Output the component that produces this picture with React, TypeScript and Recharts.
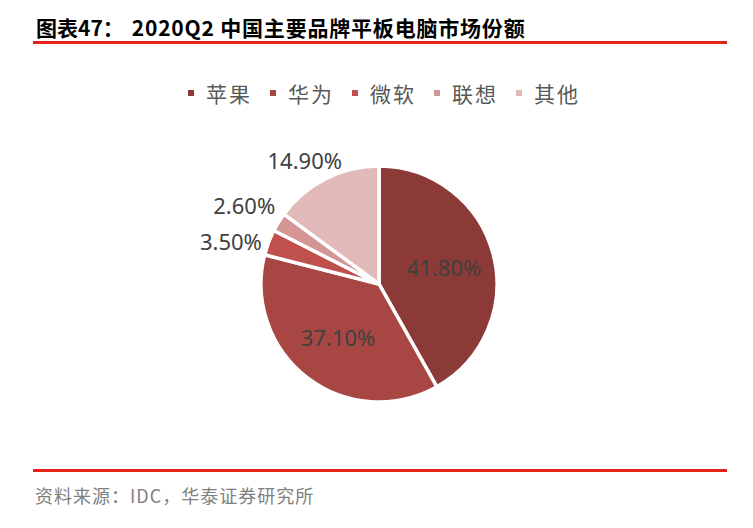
import React from 'react';
import { PieChart, Pie, Cell } from 'recharts';

const brands = ['苹果', '华为', '微软', '联想', '其他'];
const shares = [41.8, 37.1, 3.5, 2.6, 14.9];
const colors = ['#8C3A37', '#A84644', '#C0504D', '#D39695', '#E1B9B8'];
const titleLead = '图表47：';
const titleMain = '2020Q2 中国主要品牌平板电脑市场份额';
const sourceText = '资料来源：IDC，华泰证券研究所';

const data = brands.map((name, i) => ({ name, value: shares[i] }));

const RAD = Math.PI / 180;
const LABEL_FONT = 22;
const INSIDE_MIN = 0.2;
const MIN_GAP = 36;

// Geometry of the pie (used by Recharts and by the label layout)
const CX = 379;
const CY = 284;
const OUTER = 118;

const fmt = (v: number) => v.toFixed(2) + '%';

// Pre-compute label positions with a simple vertical de-overlap pass for outside labels.
const total = shares.reduce((a, b) => a + b, 0);
const labelPos: { x: number; y: number }[] = (() => {
  let start = 90;
  const res: { x: number; y: number; outside: boolean }[] = [];
  shares.forEach((v) => {
    const sweep = (v / total) * 360;
    const mid = start - sweep / 2;
    start -= sweep;
    const c = Math.cos(mid * RAD);
    const s = Math.sin(mid * RAD);
    const pct = v / total;
    if (pct > INSIDE_MIN) {
      const r = OUTER * 0.57;
      res.push({ x: CX + r * c, y: CY - r * s, outside: false });
    } else {
      const r = OUTER + 10;
      const hw = (fmt(v).length * LABEL_FONT * 0.55) / 2;
      res.push({ x: CX + r * c + c * hw, y: CY - r * s - s * 11, outside: true });
    }
  });
  const outs = res.map((p, i) => ({ p, i })).filter((o) => o.p.outside).sort((a, b) => a.p.y - b.p.y);
  for (let k = 1; k < outs.length; k++) {
    const a = outs[k - 1].p;
    const b = outs[k].p;
    const gap = b.y - a.y;
    if (gap < MIN_GAP) {
      const push = (MIN_GAP - gap) / 2;
      a.y -= push;
      b.y += push;
    }
  }
  return res.map(({ x, y }) => ({ x, y }));
})();

const renderLabel = (props: any) => {
  const { index, value } = props;
  const pos = labelPos[index];
  return (
    <text
      x={pos.x}
      y={pos.y}
      textAnchor="middle"
      dominantBaseline="central"
      fill="#404040"
      fontSize={LABEL_FONT}
      fontFamily="'Noto Sans', 'Open Sans', sans-serif"
    >
      {fmt(Number(value))}
    </text>
  );
};

export default function App() {
  return (
    <div style={{ position: 'absolute', left: 0, top: 0, width: 753, height: 528, background: '#fff', overflow: 'hidden' }}>
      <div style={{ position: 'absolute', left: 0, top: 0 }}>
        <PieChart width={753} height={528} margin={{ top: 0, right: 0, bottom: 0, left: 0 }}>
          <Pie
            data={data}
            dataKey="value"
            nameKey="name"
            cx={CX}
            cy={CY}
            outerRadius={OUTER}
            startAngle={90}
            endAngle={-270}
            stroke="#ffffff"
            strokeWidth={3.5}
            label={renderLabel}
            labelLine={false}
            isAnimationActive={false}
          >
            {data.map((d, i) => (
              <Cell key={d.name} fill={colors[i]} />
            ))}
          </Pie>
        </PieChart>
      </div>

      <div
        style={{
          position: 'absolute',
          left: 36,
          top: 14,
          fontFamily: "'Noto Sans CJK SC', sans-serif",
          fontWeight: 700,
          fontSize: 21,
          lineHeight: '26px',
          color: '#000',
          whiteSpace: 'pre',
        }}
      >
        <span>{titleLead}</span>
        <span style={{ marginLeft: 8, letterSpacing: 0.8 }}>{titleMain}</span>
      </div>
      <div style={{ position: 'absolute', left: 33, top: 41, width: 694, height: 2.5, background: '#E3231A' }} />

      <div
        style={{
          position: 'absolute',
          left: 188,
          top: 80,
          display: 'flex',
          alignItems: 'center',
          fontFamily: "'Noto Sans CJK SC', sans-serif",
          fontSize: 21,
          lineHeight: '26px',
          letterSpacing: 2,
          color: '#595959',
          whiteSpace: 'pre',
        }}
      >
        {brands.map((b, i) => (
          <div key={b} style={{ display: 'flex', alignItems: 'center', marginRight: i < brands.length - 1 ? 18 : 0 }}>
            <div style={{ width: 6, height: 6, background: colors[i], marginRight: 12 }} />
            <span>{b}</span>
          </div>
        ))}
      </div>

      <div style={{ position: 'absolute', left: 33, top: 469, width: 694, height: 2.5, background: '#E3231A' }} />
      <div
        style={{
          position: 'absolute',
          left: 35,
          top: 483,
          fontFamily: "'Noto Sans CJK SC', sans-serif",
          fontSize: 18,
          lineHeight: '24px',
          letterSpacing: 1,
          color: '#808080',
          whiteSpace: 'pre',
        }}
      >
        {sourceText}
      </div>
    </div>
  );
}
